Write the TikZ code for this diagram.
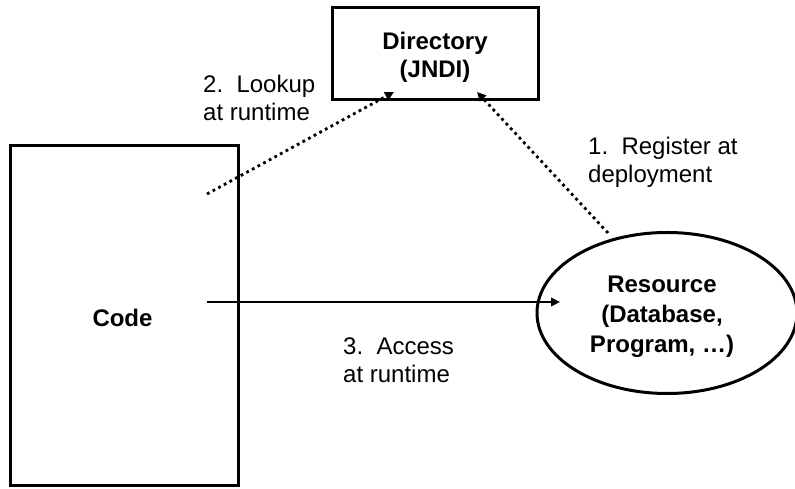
\documentclass[tikz,border=0pt]{standalone}
\usepackage{fontspec}
\setmainfont{Liberation Sans}
\usetikzlibrary{arrows.meta,shapes.geometric}

\tikzset{
  x=1pt, y=1pt,
  box/.style={draw, line width=3pt, inner sep=0pt},
  oval/.style={draw, ellipse, line width=3pt, inner sep=0pt},
  boxtext/.style={font=\fontsize{24}{28}\selectfont\bfseries, align=center, anchor=base, inner sep=0pt},
  note/.style={font=\fontsize{24}{28}\selectfont, align=left, anchor=base west, inner sep=0pt},
  tip/.style={-{Triangle[length=9pt,width=8.5pt]}},
  dotline/.style={tip, line width=2.8pt, dash pattern=on 2.8pt off 3.6pt},
  solidline/.style={tip, line width=2.6pt}
}

\begin{document}
\begin{tikzpicture}
  \useasboundingbox (0,0) rectangle (795,489);

  % boxes
  \node[box, minimum width=206pt, minimum height=92pt] (dir) at (435,435) {};
  \node[box, minimum width=228pt, minimum height=340pt] (code) at (124,173) {};
  \node[oval, minimum width=260pt, minimum height=161pt] (res) at (667,176) {};

  % box captions (multi-line nodes sit on the baseline of their last line)
  \node[boxtext] (dirtext) at (435,411) {Directory\\(JNDI)};
  \node[boxtext] (codetext) at (122.5,162) {Code};
  \node[boxtext, font=\fontsize{24}{30}\selectfont\bfseries] (restext) at (662,136) {Resource\\(Database,\\Program, …)};

  % connector end points
  \coordinate (lookupfrom) at (207,295);
  \coordinate (lookupto) at (394,397);
  \coordinate (regfrom) at (608,256);
  \coordinate (regto) at (477,397);
  \coordinate (accfrom) at (207,187);
  \coordinate (accto) at (560,187);

  % connectors
  \draw[dotline] (lookupfrom) -- (lookupto);
  \draw[dotline] (regfrom) -- (regto);
  \draw[solidline] (accfrom) -- (accto);

  % step labels
  \node[note] (lookup) at (203,368) {2.\ \ Lookup\\at runtime};
  \node[note] (register) at (588,306) {1.\ \ Register at\\deployment};
  \node[note] (access) at (343,106) {3.\ \ Access\\at runtime};
\end{tikzpicture}
\end{document}
